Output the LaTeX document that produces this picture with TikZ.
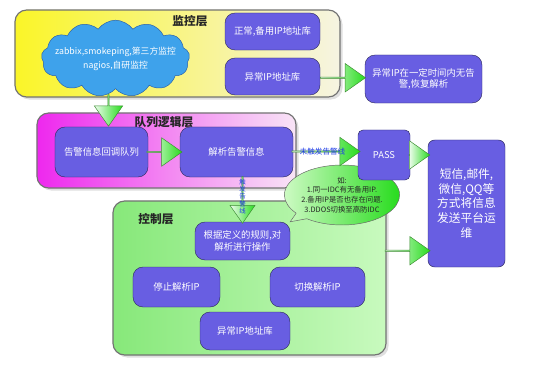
\documentclass[tikz,border=0pt]{standalone}
\usepackage{fontspec}
\newfontfamily\cjk{Noto Sans CJK SC}
\usetikzlibrary{positioning,calc,shapes.symbols,shapes.arrows,shapes.callouts,shadows}
\definecolor{boxblue}{RGB}{104,94,226}
\definecolor{boxline}{RGB}{45,42,95}
\definecolor{layergray}{RGB}{115,115,115}
\definecolor{cloudblue}{RGB}{62,162,235}
\definecolor{cloudline}{RGB}{40,95,170}
\definecolor{arrowgreen}{RGB}{40,220,30}
\definecolor{arrowline}{RGB}{60,140,50}
\definecolor{texteblue}{RGB}{30,60,230}
\tikzset{
  layer/.style={draw=layergray,line width=1pt,rounded corners=0.35cm,drop shadow={opacity=.25}},
  layertitle/.style={font=\cjk\bfseries\fontsize{10}{12}\selectfont,text=black!85},
  ipbox/.style={draw=boxline,fill=boxblue,text=white,rounded corners=0.3cm,align=center,inner sep=1pt},
  flow/.style={single arrow,draw=arrowline,left color=arrowgreen!8!white,right color=arrowgreen,
    minimum width=0.85cm,single arrow head extend=0.15cm,single arrow tip angle=70,inner sep=0pt},
  flowtext/.style={text=texteblue,font=\cjk\fontsize{6.5}{7}\selectfont,inner sep=0pt}
}
\begin{document}
\begin{tikzpicture}[x=0.03cm,y=-0.03cm,font=\cjk\fontsize{8}{10}\selectfont]
  \useasboundingbox (0,0) rectangle (533,366);
  % layers
  \node[layer,left color={rgb,255:red,250;green,245;blue,40},right color={rgb,255:red,246;green,244;blue,226},
    minimum width=9.75cm,minimum height=2.61cm] (monitor) at (177.5,53.5) {};
  \node[layer,left color={rgb,255:red,238;green,40;blue,238},right color={rgb,255:red,248;green,228;blue,246},
    minimum width=7.77cm,minimum height=2.25cm] (queuelayer) at (166.5,150.5) {};
  \node[layer,left color={rgb,255:red,135;green,232;blue,122},right color={rgb,255:red,200;green,250;blue,190},
    minimum width=8.19cm,minimum height=4.62cm] (control) at (249.5,278) {};
  \node[layertitle] at (190,21) {监控层};
  \node[layertitle] at (164,122) {队列逻辑层};
  \node[layertitle] at (156,219) {控制层};
  % monitor layer
  \node[cloud,cloud puffs=13,cloud puff arc=110,aspect=2,draw=cloudline,fill=cloudblue,
    minimum width=4.45cm,minimum height=2.3cm,inner sep=0pt] (cloud) at (115.5,58.5) {};
  \node[text=white,align=center,font=\cjk\fontsize{7.5}{12}\selectfont] at (cloud.center)
    {zabbix,smokeping,第三方监控\\nagios,自研监控};
  \node[ipbox,minimum width=2.85cm,minimum height=1.11cm] (normal) at (272.5,31.5) {正常,备用IP地址库};
  \node[ipbox,minimum width=2.85cm,minimum height=1.11cm] (badip) at (272.5,76.5) {异常IP地址库};
  \node[ipbox,minimum width=3.51cm,minimum height=1.44cm] (recover) at (423.5,79) {异常IP在一定时间内无告\\警,恢复解析};
  % queue layer
  \node[ipbox,minimum width=2.79cm,minimum height=1.5cm] (queue) at (101.5,152) {告警信息回调队列};
  \node[ipbox,minimum width=3.39cm,minimum height=1.5cm] (parse) at (236.5,152) {解析告警信息};
  % control layer
  \node[ipbox,minimum width=2.85cm,minimum height=1.14cm] (rule) at (242.5,241) {根据定义的规则,对\\解析进行操作};
  \node[ipbox,minimum width=2.61cm,minimum height=1.2cm] (stop) at (176.5,287) {停止解析IP};
  \node[ipbox,minimum width=2.85cm,minimum height=1.2cm] (switch) at (317.5,287) {切换解析IP};
  \node[ipbox,minimum width=2.7cm,minimum height=1.14cm] (badip2) at (245,331) {异常IP地址库};
  % note
  \node[ellipse callout,callout absolute pointer={(rule.north east)},draw=black!60,
    left color={rgb,255:red,205;green,250;blue,195},right color=arrowgreen,
    minimum width=3.3cm,minimum height=1.8cm,inner sep=0pt,align=center,text=black!85,
    font=\cjk\fontsize{6.3}{8.2}\selectfont] (note) at (342,195)
    {如:\\1.同一IDC有无备用IP.\\2.备用IP是否也存在问题.\\3.DDOS切换至高防IDC};
  \node[ipbox,rounded corners=0.15cm,minimum width=1.56cm,minimum height=1.5cm] (pass) at (384,155) {PASS};
  \node[ipbox,rounded corners=0.2cm,minimum width=2.31cm,minimum height=3.81cm,
    font=\cjk\fontsize{10}{12.5}\selectfont] (notify) at (466.5,203.5)
    {短信,邮件,\\微信,QQ等\\方式将信息\\发送平台运\\维};
  % arrows
  \node[flow,rotate=-90,minimum height=0.95cm] (a1) at ($(cloud.south)!.5!(queue.north)+(0,2)$) {};
  \node[flow,minimum height=1.35cm] (a2) at ($(badip.east)!.5!(recover.west)$) {};
  \node[flow,minimum height=1.05cm] (a3) at ($(queue.east)!.5!(parse.west)$) {};
  \node[flow,minimum height=2.05cm] (a4) at ($(parse.east)!.5!(pass.west)+(0,-2)$) {};
  \node[flowtext] at ($(a4.center)+(-3,0)$) {未触发告警线};
  \node[flow,minimum height=0.62cm] (a5) at ($(pass.east)!.5!(notify.west |- pass.east)$) {};
  \node[flow,minimum height=1.35cm] (a6) at ($(control.east)!.5!(notify.west)+(0,10)$) {};
  \node[flow,rotate=-90,minimum height=1.4cm,minimum width=0.75cm,single arrow head extend=0.13cm] (a7)
    at ($(parse.south)!.5!(rule.north)+(3,0)$) {};
  \node[flowtext,align=center,font=\cjk\fontsize{5.5}{6.3}\selectfont] at ($(a7.center)+(0,-3)$) {触\\发\\告\\警\\线};
\end{tikzpicture}
\end{document}
